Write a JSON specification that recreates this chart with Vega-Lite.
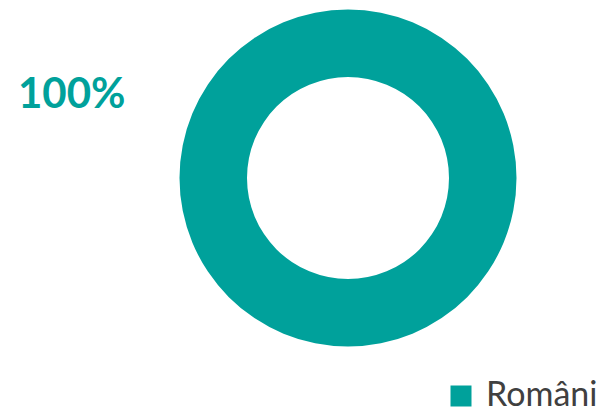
{
  "$schema": "https://vega.github.io/schema/vega-lite/v6.json",
  "width": 338,
  "height": 338,
  "autosize": {"type": "none"},
  "padding": {"left": 179, "top": 9, "right": 80, "bottom": 61},
  "background": "white",
  "title": {
    "text": "100%",
    "anchor": "start",
    "frame": "group",
    "orient": "top",
    "offset": 0,
    "baseline": "alphabetic",
    "dx": -161,
    "dy": 141,
    "font": "Lato",
    "fontSize": 42,
    "fontWeight": "bold",
    "color": "#00A19B"
  },
  "data": {"values": [{"group": "Români", "value": 100}]},
  "mark": {"type": "arc", "innerRadius": 101, "outerRadius": 168.5},
  "encoding": {
    "theta": {"field": "value", "type": "quantitative"},
    "color": {
      "field": "group",
      "type": "nominal",
      "scale": {"range": ["#00A19B"]},
      "legend": {
        "title": null,
        "orient": "none",
        "legendX": 265,
        "legendY": 370,
        "symbolType": "square",
        "symbolSize": 441,
        "symbolStrokeWidth": 0,
        "labelFont": "Lato",
        "labelFontSize": 34,
        "labelColor": "#404040",
        "labelOffset": 8,
        "labelLimit": 300,
        "padding": 0
      }
    }
  },
  "config": {"view": {"stroke": null}}
}
